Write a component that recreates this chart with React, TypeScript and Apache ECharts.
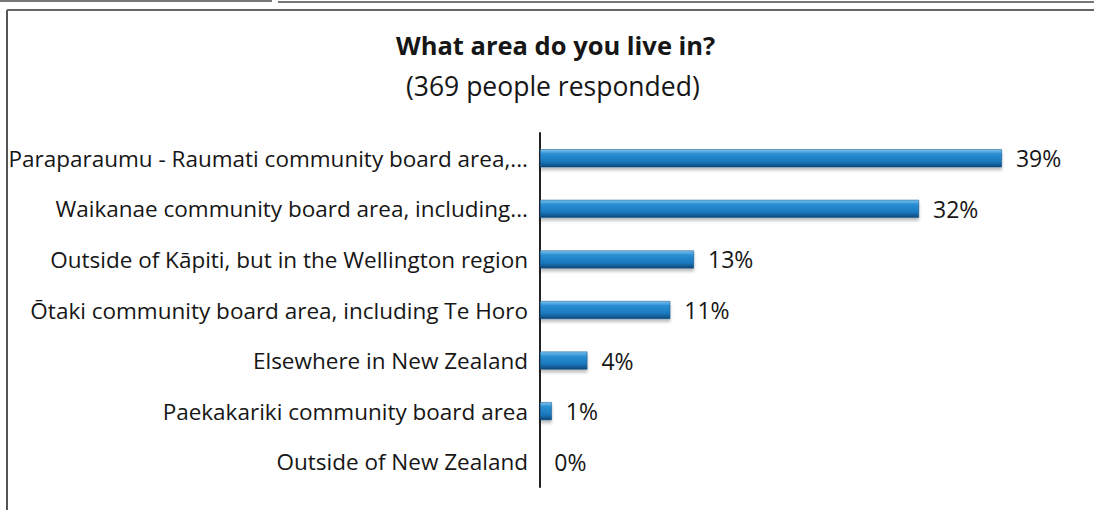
import React, { useEffect, useRef } from "react";
import * as echarts from "echarts";

const categories = [
  "Paraparaumu - Raumati community board area,...",
  "Waikanae community board area, including...",
  "Outside of Kāpiti, but in the Wellington region",
  "Ōtaki community board area, including Te Horo",
  "Elsewhere in New Zealand",
  "Paekakariki community board area",
  "Outside of New Zealand",
];
const values = [39, 32, 13, 11, 4, 1, 0];
const valueLabels = ["39%", "32%", "13%", "11%", "4%", "1%", "0%"];
const titleText = "What area do you live in?";
const subtitleText = "(369 people responded)";

const FONT = "Open Sans";

export default function App() {
  const ref = useRef<HTMLDivElement>(null);
  useEffect(() => {
    document.body.style.margin = "0";
    const chart = echarts.init(ref.current!, null, { renderer: "svg" });
    chart.setOption({
      animation: false,
      backgroundColor: "#ffffff",
      title: [
        {
          text: titleText,
          left: 396,
          top: 32,
          padding: 0,
          textStyle: { fontFamily: FONT, fontSize: 25.5, fontWeight: "bold", color: "#161616" },
        },
        {
          text: subtitleText,
          left: 406,
          top: 72,
          padding: 0,
          textStyle: { fontFamily: FONT, fontSize: 26.5, fontWeight: "normal", color: "#161616" },
        },
      ],
      graphic: [
        { type: "line", shape: { x1: 7, y1: 10, x2: 7, y2: 510 }, style: { stroke: "#555", lineWidth: 2 } },
        { type: "line", shape: { x1: 7, y1: 10, x2: 1094, y2: 10 }, style: { stroke: "#666", lineWidth: 2 } },
        { type: "line", shape: { x1: 0, y1: 1, x2: 272, y2: 1 }, style: { stroke: "#777", lineWidth: 2 } },
        { type: "line", shape: { x1: 278, y1: 2, x2: 1094, y2: 2 }, style: { stroke: "#777", lineWidth: 2 } },
      ],
      grid: { left: 540, right: 21, top: 133, bottom: 23, containLabel: false },
      xAxis: { type: "value", min: 0, max: 45, show: false },
      yAxis: {
        type: "category",
        data: categories,
        inverse: true,
        axisLine: { show: true, lineStyle: { color: "#222", width: 2 } },
        axisTick: { show: false },
        axisLabel: { fontFamily: FONT, fontSize: 22.5, color: "#161616", margin: 12 },
      },
      series: [
        {
          type: "bar",
          data: values,
          barWidth: 18,
          itemStyle: {
            color: new echarts.graphic.LinearGradient(0, 0, 0, 1, [
              { offset: 0, color: "#7cc4ef" },
              { offset: 0.25, color: "#2a8fd3" },
              { offset: 0.7, color: "#1a78bd" },
              { offset: 1, color: "#0e4677" },
            ]),
            borderColor: "#134e80",
            borderWidth: 0.5,
            shadowColor: "rgba(0,0,0,0.25)",
            shadowBlur: 3,
            shadowOffsetY: 3,
          },
          label: {
            show: true,
            position: "right",
            distance: 14,
            fontFamily: FONT,
            fontSize: 23,
            color: "#161616",
            formatter: (p: any) => valueLabels[p.dataIndex],
          },
        },
      ],
    });
    return () => chart.dispose();
  }, []);
  return <div ref={ref} style={{ width: 1094, height: 510 }} />;
}
